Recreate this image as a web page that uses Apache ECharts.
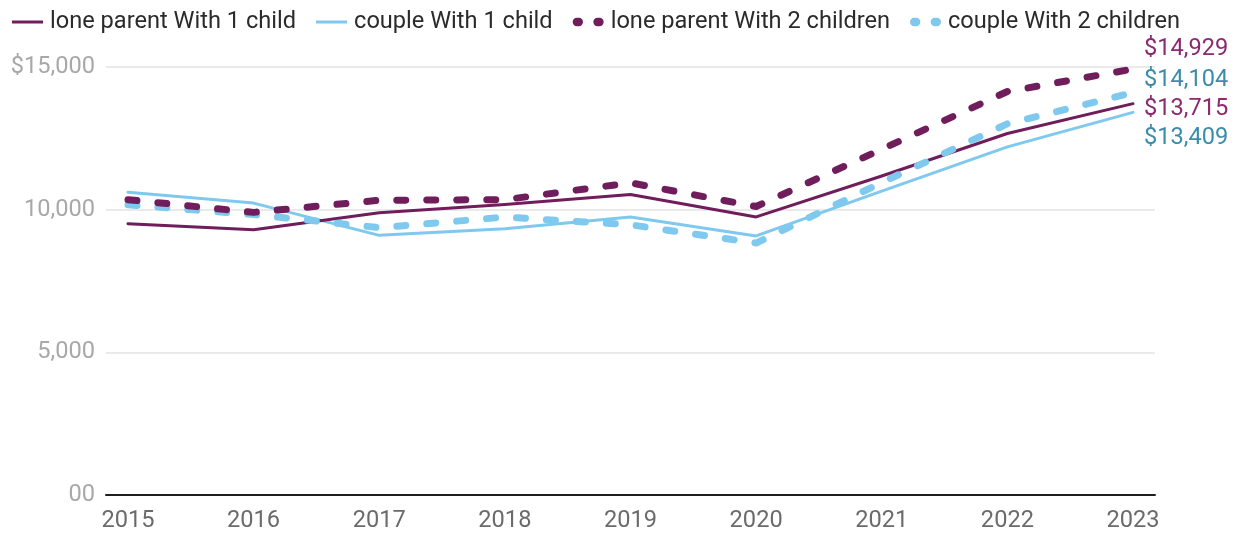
<!DOCTYPE html>
<html>
<head>
<meta charset="utf-8">
<script src="https://cdn.jsdelivr.net/npm/echarts@6/dist/echarts.min.js"></script>
<style>
  html, body { margin: 0; padding: 0; background: #fff; }
  #chart { width: 1242px; height: 534px; }
</style>
</head>
<body>
<div id="chart"></div>
<script>
// Years on the horizontal axis
const years = [2015, 2016, 2017, 2018, 2019, 2020, 2021, 2022, 2023];

// Annual amounts by household type
const loneParent1 = [9510, 9300, 9890, 10180, 10530, 9745, 11180, 12670, 13715];
const couple1     = [10610, 10230, 9100, 9330, 9740, 9080, 10650, 12200, 13409];
const loneParent2 = [10350, 9905, 10330, 10350, 10940, 10110, 12120, 14140, 14929];
const couple2     = [10170, 9830, 9370, 9740, 9470, 8830, 10950, 13010, 14104];

// Y-axis tick labels
const yTickLabels = { 0: '00', 5000: '5,000', 10000: '10,000', 15000: '$15,000' };

const PURPLE = '#6f1d5b';
const BLUE = '#7fc8ee';
const PURPLE_TEXT = '#8a2a70';
const BLUE_TEXT = '#3a8cab';
const FONT = 'Roboto';
const FS = 23.6;

const ICON_SOLID = 'path://M0,3.5 L31,3.5 L31,6.5 L0,6.5 Z';
const ICON_DOTS = 'path://M4,1 L6,1 A4,4 0 0 1 6,9 L4,9 A4,4 0 0 1 4,1 Z M24,1 L26,1 A4,4 0 0 1 26,9 L24,9 A4,4 0 0 1 24,1 Z';

function money(v) {
  return '$' + v.toLocaleString('en-US');
}

function makeSeries(name, values, color, dashed, endOffsetY, textColor) {
  const last = values[values.length - 1];
  return {
    name,
    type: 'line',
    data: values.map((v, i) => [years[i], v]),
    symbol: 'none',
    smooth: false,
    color,
    clip: false,
    lineStyle: dashed
      ? { color, width: 7, type: [9, 21], cap: 'round', join: 'round' }
      : { color, width: 3, cap: 'round', join: 'round' },
    endLabel: {
      show: true,
      distance: 11,
      offset: [0, endOffsetY],
      formatter: () => money(last),
      color: textColor,
      fontSize: FS,
      fontFamily: FONT
    },
    emphasis: { disabled: true },
    animation: false
  };
}

const chart = echarts.init(document.getElementById('chart'), null, { renderer: 'canvas' });

chart.setOption({
  backgroundColor: '#ffffff',
  textStyle: { fontFamily: FONT },
  legend: {
    left: 7,
    top: 5,
    itemWidth: 31,
    itemHeight: 10,
    itemGap: 20,
    textStyle: { fontSize: FS, color: '#2b2b2b', fontFamily: FONT, padding: [0, 0, 0, 2] },
    data: [
      { name: 'lone parent With 1 child', icon: ICON_SOLID },
      { name: 'couple With 1 child', icon: ICON_SOLID },
      { name: 'lone parent With 2 children', icon: ICON_DOTS },
      { name: 'couple With 2 children', icon: ICON_DOTS }
    ],
    selectedMode: false
  },
  grid: { left: 106, right: 87, top: 67, bottom: 39, containLabel: false },
  xAxis: {
    type: 'value',
    min: 2014.825,
    max: 2023.175,
    axisLine: { show: true, lineStyle: { color: '#1f1f1f', width: 2 } },
    axisTick: { show: false },
    splitLine: { show: false },
    axisLabel: {
      customValues: years,
      formatter: v => String(v),
      color: '#6b6b6b',
      fontSize: FS,
      margin: 14,
      fontFamily: FONT
    }
  },
  yAxis: {
    type: 'value',
    min: 0,
    max: 15000,
    interval: 5000,
    axisLine: { show: false },
    axisTick: { show: false },
    splitLine: { show: true, lineStyle: { color: '#e3e3e3', width: 1.5 } },
    axisLabel: {
      formatter: v => yTickLabels[v] ?? '',
      color: '#a8a8a8',
      fontSize: FS,
      margin: 11,
      padding: [4, 0, 0, 0],
      fontFamily: FONT
    }
  },
  series: [
    makeSeries('couple With 1 child', couple1, BLUE, false, 26, BLUE_TEXT),
    makeSeries('lone parent With 1 child', loneParent1, PURPLE, false, 5, PURPLE_TEXT),
    makeSeries('couple With 2 children', couple2, BLUE, true, -12, BLUE_TEXT),
    makeSeries('lone parent With 2 children', loneParent2, PURPLE, true, -19.5, PURPLE_TEXT)
  ]
});
</script>
</body>
</html>
